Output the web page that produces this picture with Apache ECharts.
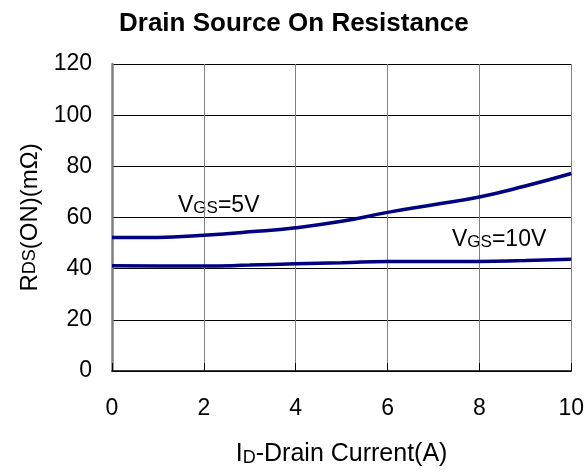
<!DOCTYPE html>
<html>
<head>
    <meta charset="utf-8" />
    <title>Drain Source On Resistance</title>
    <script src="https://cdn.jsdelivr.net/npm/echarts@6/dist/echarts.min.js"></script>
    <style>
        html, body { margin: 0; padding: 0; background: #fff; }
        #chart { width: 587px; height: 472px; }
    </style>
</head>
<body>
    <div id="chart"></div>
    <script type="text/javascript">

        // drain current (A)
        var current = [0, 1, 2, 3, 4, 5, 6, 7, 8, 9, 10];
        // RDS(on) in mOhm
        var vgs5 = [52.2, 52.2, 53.1, 54.4, 56.0, 58.5, 62.0, 65.0, 68.0, 72.3, 77.2];
        var vgs10 = [41.1, 41.0, 41.0, 41.4, 41.9, 42.3, 42.8, 42.8, 42.8, 43.2, 43.7];
        var xTicks = [0, 2, 4, 6, 8, 10];
        var yTicks = [0, 20, 40, 60, 80, 100, 120];

        var font = 'Arial, "Liberation Sans", sans-serif';
        var navy = '#000080';

        function pairs(xs, ys) {
            return xs.map(function (x, i) { return [x, ys[i]]; });
        }

        var chart = echarts.init(document.getElementById('chart'));

        var labelRich = {
            b: { fontSize: 23, fill: '#000', fontFamily: font },
            s: { fontSize: 17, fill: '#000', fontFamily: font, verticalAlign: 'bottom' }
        };

        var option = {
            animation: false,
            backgroundColor: '#fff',
            textStyle: { fontFamily: font },
            title: {
                text: 'Drain Source On Resistance',
                left: 114,
                top: 6,
                textStyle: { fontSize: 26, fontWeight: 'bold', color: '#000', fontFamily: font }
            },
            grid: { left: 112, right: 14, top: 64, bottom: 100 },
            xAxis: {
                type: 'value',
                min: 0, max: 10, interval: 2,
                axisLine: { lineStyle: { color: '#000', width: 1.5 } },
                axisTick: { inside: true, length: 8, lineStyle: { color: '#000' } },
                splitLine: { show: true, lineStyle: { color: '#808080', width: 1 } },
                axisLabel: { fontSize: 23, color: '#000', margin: 26, fontFamily: font,
                    formatter: function (v) { return xTicks.indexOf(v) >= 0 ? String(v) : ''; } },
                name: '{b|I}{s|D}{b|-Drain Current(A)}',
                nameLocation: 'middle',
                nameGap: 71,
                nameTextStyle: {
                    color: '#000', fontFamily: font,
                    rich: {
                        b: { fontSize: 25, color: '#000', fontFamily: font },
                        s: { fontSize: 18, color: '#000', fontFamily: font, verticalAlign: 'bottom' }
                    }
                }
            },
            yAxis: {
                type: 'value',
                min: 0, max: 120, interval: 20,
                axisLine: { show: true, lineStyle: { color: '#808080', width: 2.5 } },
                axisTick: { show: false },
                splitLine: { show: true, lineStyle: { color: '#000', width: 1 } },
                axisLabel: { fontSize: 23, color: '#000', margin: 20, fontFamily: font,
                    formatter: function (v) { return yTicks.indexOf(v) >= 0 ? String(v) : ''; } },
                name: '{b|R}{s|DS}{b|(ON)(mΩ)}',
                nameLocation: 'middle',
                nameGap: 70,
                nameTextStyle: {
                    color: '#000', fontFamily: font,
                    rich: {
                        b: { fontSize: 24, color: '#000', fontFamily: font },
                        s: { fontSize: 18, color: '#000', fontFamily: font }
                    }
                }
            },
            graphic: [
                {
                    type: 'text', left: 178, top: 194,
                    style: { text: '{b|V}{s|GS}{b|=5V}', rich: labelRich }
                },
                {
                    type: 'text', left: 452, top: 228,
                    style: { text: '{b|V}{s|GS}{b|=10V}', rich: labelRich }
                }
            ],
            series: [
                {
                    name: 'VGS=5V',
                    type: 'line',
                    smooth: true,
                    showSymbol: false,
                    lineStyle: { color: navy, width: 3.5 },
                    data: pairs(current, vgs5)
                },
                {
                    name: 'VGS=10V',
                    type: 'line',
                    smooth: true,
                    showSymbol: false,
                    lineStyle: { color: navy, width: 3.5 },
                    data: pairs(current, vgs10)
                }
            ]
        };

        chart.setOption(option);
    </script>
</body>
</html>
